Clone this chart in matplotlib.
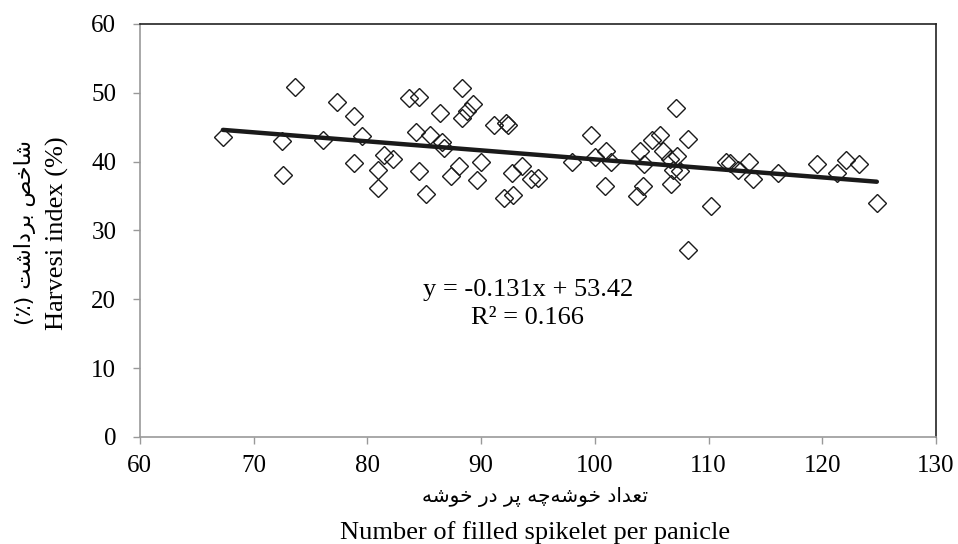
import numpy as np
import matplotlib.pyplot as plt

plt.rcParams['font.family'] = ['Liberation Serif', 'DejaVu Sans']

# filled spikelets per panicle vs harvest index (%)
spikelets = [67.3, 72.5, 72.6, 73.6, 76.1, 77.3, 78.8, 78.8, 79.5, 80.9,
             80.9, 81.5, 82.3, 83.7, 84.5, 84.3, 84.5, 85.2, 85.5, 86.4,
             86.6, 86.7, 87.4, 88.1, 88.3, 88.3, 88.8, 89.3, 89.6, 90.0,
             91.1, 92.2, 92.4, 92.0, 92.8, 92.7, 93.6, 94.4, 95.0, 98.0,
             99.7, 100.0, 101.0, 101.4, 100.9, 103.7, 104.0, 104.3, 104.2, 105.0,
             105.7, 106.0, 106.6, 107.2, 106.9, 107.5, 106.7, 107.1, 108.2, 108.2,
             110.2, 111.5, 111.9, 112.6, 113.6, 113.9, 116.1, 119.5, 121.3, 122.1,
             123.2, 124.8]
harvest_index = [43.5, 43.0, 38.1, 50.9, 43.2, 48.7, 46.6, 39.8, 43.7, 38.8,
                 36.2, 41.0, 40.4, 49.2, 49.4, 44.3, 38.6, 35.3, 43.8, 47.1,
                 42.9, 42.0, 37.9, 39.3, 50.7, 46.3, 47.3, 48.4, 37.3, 40.0,
                 45.3, 45.6, 45.3, 34.7, 35.2, 38.3, 39.4, 37.4, 37.6, 39.9,
                 43.9, 40.6, 41.5, 40.0, 36.4, 35.0, 41.5, 39.6, 36.4, 43.2,
                 43.8, 41.6, 40.4, 40.8, 38.8, 38.6, 36.7, 47.8, 43.3, 27.2,
                 33.6, 39.9, 39.8, 38.8, 39.9, 37.5, 38.35, 39.7, 38.35, 40.3,
                 39.6, 34.0]

slope = -0.131
intercept = 53.42
r2 = 0.166

x_ticks = [60, 70, 80, 90, 100, 110, 120, 130]
y_ticks = [0, 10, 20, 30, 40, 50, 60]

# persian labels written in presentation forms, visual order
fa_ylabel = "(\u066a) \uFE96\uFEB7\uFE8D\uFEA9\uFEAE\uFE91 \uFEBA\uFEA7\uFE8E\uFEB7"
fa_xlabel = ("\uFEEA\uFEB7\uFEEE\uFEA7 \uFEAD\uFEA9 \uFEAE\uFB58 "
             "\uFEEA\uFB7C\uFEEA\uFEB7\uFEEE\uFEA7 \uFEA9\uFE8D\uFEAA\uFECC\uFE97")

fig = plt.figure(figsize=(9.58, 5.44), dpi=100)
ax = fig.add_axes([0.146, 0.197, 0.831, 0.759])

ax.plot(spikelets, harvest_index, linestyle='none', marker='D', markersize=9.5,
        markerfacecolor='none', markeredgecolor='#1a1a1a', markeredgewidth=1.0)

xs = np.array([min(spikelets), max(spikelets)])
ax.plot(xs, slope * xs + intercept, color='#1a1a1a', linewidth=3.2,
        solid_capstyle='round')

ax.text(94.1, 21.4, "y = %.3fx + %.2f" % (slope, intercept), fontsize=19,
        ha='center', va='center')
ax.text(94.1, 17.2, "R² = %.3f" % r2, fontsize=19, ha='center', va='center')

ax.set_xlim(60, 130)
ax.set_ylim(0, 60)
ax.set_xticks(x_ticks)
ax.set_yticks(y_ticks)
ax.tick_params(labelsize=18, length=5, width=1, color='#999999')
ax.tick_params(axis='x', pad=8)
ax.tick_params(axis='y', pad=12)

ax.spines['left'].set_color('#999999')
ax.spines['bottom'].set_color('#999999')
ax.spines['top'].set_color('#222222')
ax.spines['right'].set_color('#222222')
for s in ax.spines.values():
    s.set_linewidth(1.2)

fig.text(535 / 958, 1 - 497 / 544, fa_xlabel, family=['DejaVu Sans'],
         fontsize=14.5, ha='center', va='center')
fig.text(535 / 958, 1 - 533 / 544, "Number of filled spikelet per panicle",
         fontsize=19, ha='center', va='center')
fig.text(25 / 958, 1 - 233 / 544, fa_ylabel, family=['DejaVu Sans'],
         fontsize=16, rotation=90, ha='center', va='center')
fig.text(57 / 958, 1 - 233 / 544, "Harvesi index (%)", fontsize=19,
         rotation=90, ha='center', va='center')

fig.savefig('out.png', dpi=100)
